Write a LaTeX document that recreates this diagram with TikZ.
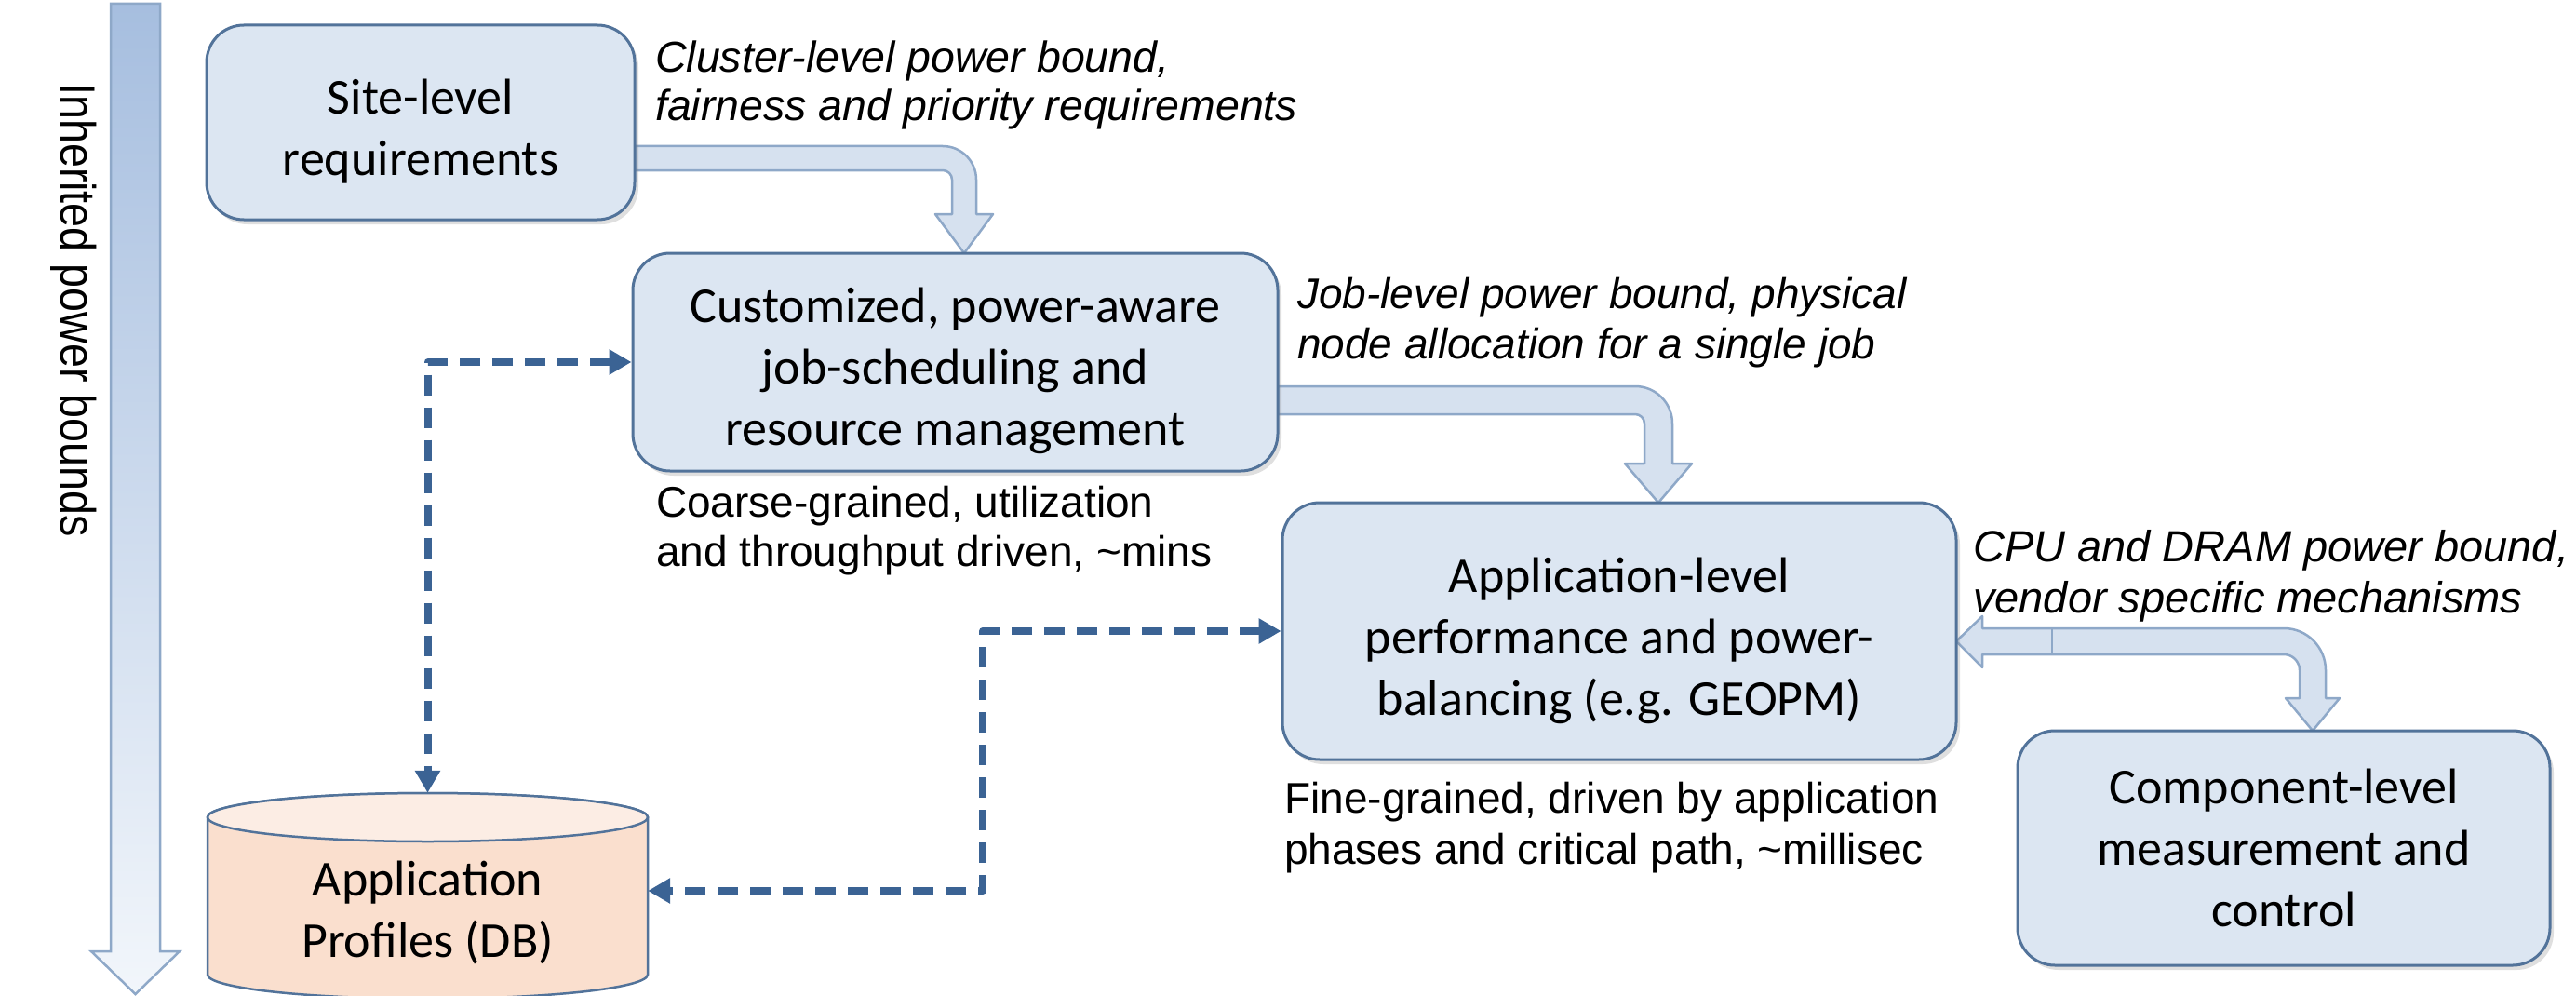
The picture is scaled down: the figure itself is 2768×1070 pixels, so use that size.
\documentclass[tikz,border=0pt]{standalone}
\usepackage{fontspec}
\setmainfont{Carlito}
\newfontfamily\arialf{Liberation Sans}
\newfontfamily\arialn{Liberation Sans}[FakeStretch=0.88]
\usetikzlibrary{arrows.meta,shadows}
\definecolor{boxfill}{HTML}{DCE6F2}
\definecolor{boxdraw}{HTML}{52739A}
\definecolor{arrfill}{HTML}{D6E1EF}
\definecolor{arrdraw}{HTML}{8EA8C8}
\definecolor{dbfill}{HTML}{FADFCE}
\definecolor{dashcol}{HTML}{3B6394}
\definecolor{vtopc}{HTML}{A6BEDF}
\definecolor{vbotc}{HTML}{F2F6FB}
\begin{document}
\begin{tikzpicture}[x=1pt,y=-1pt,
  box/.style={draw=boxdraw, line width=3pt, fill=boxfill, rounded corners=40pt,
    drop shadow={opacity=0.25, shadow xshift=4pt, shadow yshift=-5pt}},
  boxtext/.style={align=center, font=\fontsize{54}{66}\selectfont, inner sep=0pt},
  lbl/.style 2 args={font=\arialf\itshape\fontsize{#1}{#2}\selectfont, align=left, inner sep=0pt, anchor=base west},
  plainlbl/.style 2 args={font=\arialf\fontsize{#1}{#2}\selectfont, align=left, inner sep=0pt, anchor=base west},
  blockarrow/.style={draw=arrdraw, line width=2.5pt, fill=arrfill, line join=round},
  dasharrow/.style={draw=dashcol, line width=8pt, dash pattern=on 22pt off 13pt,
    {Triangle[length=24pt,width=26pt]}-{Triangle[length=24pt,width=26pt]}, line join=round}
]
\useasboundingbox (0,0) rectangle (2768,1070);
\fill[white] (0,0) rectangle (2768,1070);
\clip (0,0) rectangle (2768,1070);

% inherited power bounds arrow
\path[draw=arrdraw, line width=2.5pt, top color=vtopc, bottom color=vbotc]
  (119,4) -- (172,4) -- (172,1022) -- (193,1022) -- (145.5,1068) -- (98,1022) -- (119,1022) -- cycle;
\node[rotate=-90, font=\arialn\fontsize{53}{60}\selectfont] (inh) at (79,333) {Inherited power bounds};

% block arrows
\path[blockarrow] (682,157) -- (1013,157) arc[start angle=-90,end angle=0,radius=36]
  -- (1049,230) -- (1067,230) -- (1036,272) -- (1005,230) -- (1023,230) -- (1023,193)
  arc[start angle=0,end angle=-90,radius=10] -- (682,183) -- cycle;
\path[blockarrow] (1373,415) -- (1757,415) arc[start angle=-90,end angle=0,radius=40]
  -- (1797,498) -- (1818,498) -- (1782,540) -- (1746,498) -- (1767,498) -- (1767,455)
  arc[start angle=0,end angle=-90,radius=10] -- (1373,445) -- cycle;
\path[blockarrow] (2102,689) -- (2130,662) -- (2130,675) -- (2454,675)
  arc[start angle=-90,end angle=0,radius=45] -- (2499,750) -- (2514,750) -- (2485,785)
  -- (2456,750) -- (2471,750) -- (2471,720) arc[start angle=0,end angle=-90,radius=17]
  -- (2130,703) -- (2130,717) -- cycle;
\draw[draw=arrdraw, line width=2.5pt] (2205,675) -- (2205,703);

% boxes
\node[box, minimum width=460pt, minimum height=209pt] (site) at (452,131.5) {};
\node[boxtext] (sitet) at (452,141) {Site-level\\requirements};
\node[box, minimum width=693pt, minimum height=234pt] (cust) at (1026.5,389) {};
\node[boxtext] (custt) at (1026.5,398) {Customized, power-aware\\job-scheduling and\\resource management};
\node[box, minimum width=724pt, minimum height=276pt] (app) at (1740,678) {};
\node[boxtext] (appt) at (1740,688) {Application-level\\performance and power-\\balancing (e.g. GEOPM)};
\node[box, minimum width=572pt, minimum height=252pt] (comp) at (2454,911) {};
\node[boxtext] (compt) at (2454,911) {Component-level\\measurement and\\control};

% database cylinder
\path[fill=dbfill, draw=boxdraw, line width=2.5pt] (223,878) -- (223,1047)
  arc[start angle=180, end angle=0, x radius=236.5, y radius=26] -- (696,878)
  arc[start angle=0, end angle=-180, x radius=236.5, y radius=26] -- cycle;
\draw[fill=dbfill!55!white, draw=boxdraw, line width=2.5pt] (459.5,878) ellipse [x radius=236.5, y radius=26];
\node[align=center, font=\fontsize{54}{66}\selectfont, minimum width=473pt, minimum height=256pt, inner sep=0pt] (db) at (459.5,980) {Application\\Profiles (DB)};

% dashed connectors
\coordinate (b2) at (1056,957);
\draw[dasharrow] (cust.west) -| (db.north);
\draw[dasharrow] (app.west) -| (b2) -- (db.east |- b2);

% labels (anchor at baseline of the last line)
\node[lbl={46.5}{52}] (l1) at (704,130) {Cluster-level power bound,\\fairness and priority requirements};
\node[lbl={46}{54}] (l2) at (1394,385) {Job-level power bound, physical\\node allocation for a single job};
\node[lbl={47}{55}] (l3) at (2120,658) {CPU and DRAM power bound,\\vendor specific mechanisms};
\node[plainlbl={46}{53}] (l4) at (705,608) {Coarse-grained, utilization\\and throughput driven, \textasciitilde mins};
\node[plainlbl={46}{55}] (l5) at (1380,928) {Fine-grained, driven by application\\phases and critical path, \textasciitilde millisec};
\end{tikzpicture}
\end{document}
